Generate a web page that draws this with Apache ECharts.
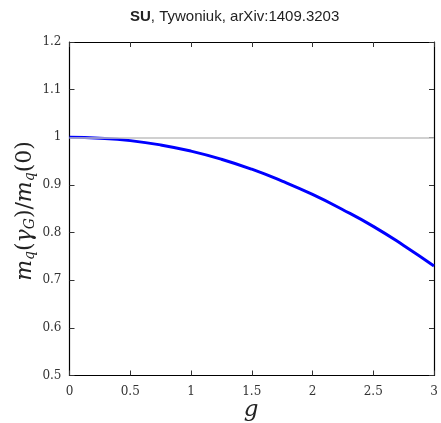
<!DOCTYPE html>
<html>
<head>
<meta charset="utf-8">
<script src="https://cdn.jsdelivr.net/npm/echarts@6/dist/echarts.min.js"></script>
<style>
html, body { margin: 0; padding: 0; background: #fff; }
#chart { width: 441px; height: 423px; }
</style>
</head>
<body>
<div id="chart"></div>
<script>
// values
var gValues = [0, 0.25, 0.5, 0.75, 1, 1.25, 1.5, 1.75, 2, 2.25, 2.5, 2.75, 3];
var massRatio = [1.000, 0.998, 0.993, 0.984, 0.971, 0.954, 0.933, 0.908, 0.880, 0.848, 0.813, 0.773, 0.730];
var refLevel = 1;

var serif = '"DejaVu Serif", "Liberation Serif", serif';
var mathFont = '"DejaVu Serif", "Liberation Serif", serif';

var curve = [];
for (var i = 0; i < gValues.length; i++) {
    curve.push([gValues[i], massRatio[i]]);
}

function frameAxis(pos, show) {
    return {
        type: 'value',
        position: pos,
        axisLine: { show: true, onZero: false, lineStyle: { color: '#000', width: 1.2 } },
        axisTick: { show: true, inside: true, length: 5, lineStyle: { color: '#333' } },
        axisLabel: {
            show: show,
            color: '#333',
            fontFamily: serif,
            fontSize: 12
        },
        splitLine: { show: false }
    };
}

var xBottom = frameAxis('bottom', true);
xBottom.min = 0; xBottom.max = 3; xBottom.interval = 0.5;
xBottom.axisLabel.margin = 10;
var xTop = frameAxis('top', false);
xTop.min = 0; xTop.max = 3; xTop.interval = 0.5;

var yLeft = frameAxis('left', true);
yLeft.min = 0.5; yLeft.max = 1.2; yLeft.interval = 0.1;
yLeft.axisLabel.margin = 8;
var yRight = frameAxis('right', false);
yRight.min = 0.5; yRight.max = 1.2; yRight.interval = 0.1;

var chart = echarts.init(document.getElementById('chart'), null, { renderer: 'canvas' });
chart.setOption({
    animation: false,
    backgroundColor: '#fff',
    title: {
        text: '{b|SU}, Tywoniuk, arXiv:1409.3203',
        left: 125,
        top: 4,
        textStyle: {
            fontFamily: 'Liberation Sans, Arial, sans-serif',
            fontWeight: 'normal',
            fontSize: 15,
            color: '#222',
            rich: {
                b: { fontWeight: 'bold', fontSize: 15, fontFamily: 'Liberation Sans, Arial, sans-serif', color: '#222' }
            }
        }
    },
    grid: { left: 69.5, right: 7, top: 42, bottom: 47.5 },
    xAxis: [xBottom, xTop],
    yAxis: [yLeft, yRight],
    graphic: [{
        type: 'text',
        x: 25,
        y: 211,
        rotation: Math.PI / 2,
        style: {
            text: '{i|m}{s|q}{n|(}{i|γ}{s|G}{n|)/}{i|m}{s|q}{n|(0)}',
            align: 'center',
            verticalAlign: 'middle',
            rich: {
                i: { fontFamily: mathFont, fontStyle: 'italic', fontSize: 22, lineHeight: 24, verticalAlign: 'middle', fill: '#222' },
                n: { fontFamily: mathFont, fontSize: 22, lineHeight: 24, verticalAlign: 'middle', fill: '#222' },
                s: { fontFamily: mathFont, fontStyle: 'italic', fontSize: 14, lineHeight: 12, padding: [10, 0, 0, 0], verticalAlign: 'middle', fill: '#222' }
            }
        }
    }, {
        type: 'text',
        x: 251,
        y: 410,
        style: {
            text: 'g',
            align: 'center',
            verticalAlign: 'middle',
            fontFamily: mathFont,
            fontStyle: 'italic',
            fontSize: 23,
            fill: '#222'
        }
    }],
    series: [{
        type: 'line',
        data: curve,
        smooth: true,
        showSymbol: false,
        symbol: 'none',
        lineStyle: { color: '#0000ff', width: 3 },
        z: 3,
        markLine: {
            silent: true,
            symbol: 'none',
            label: { show: false },
            lineStyle: { color: '#c0c0c0', type: 'solid', width: 1.5 },
            data: [{ yAxis: refLevel }]
        }
    }]
});
</script>
</body>
</html>
